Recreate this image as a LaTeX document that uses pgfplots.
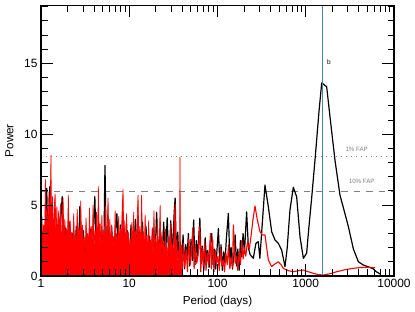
\documentclass[border=0pt]{standalone}
\usepackage{pgfplots}
\pgfplotsset{compat=1.18}
\usepackage{fontspec}
\setmainfont{Liberation Sans}
\definecolor{lineblue}{RGB}{70,130,180}
\definecolor{fapgray}{RGB}{128,128,128}
\begin{document}
\begin{tikzpicture}
\path (0,0) rectangle (415bp,312bp);
\begin{axis}[at={(41bp,36bp)}, anchor=south west, scale only axis,
  width=353bp, height=270.7bp,
  xmin=0, xmax=4, ymin=0, ymax=19.1,
  xtick={0,1,2,3,4}, xticklabels={1,10,100,1000,10000},
  minor xtick={0.30103,0.47712,0.60206,0.69897,0.77815,0.84510,0.90309,0.95424,
    1.30103,1.47712,1.60206,1.69897,1.77815,1.84510,1.90309,1.95424,
    2.30103,2.47712,2.60206,2.69897,2.77815,2.84510,2.90309,2.95424,
    3.30103,3.47712,3.60206,3.69897,3.77815,3.84510,3.90309,3.95424},
  ytick={0,5,10,15}, yticklabels={0,5,10,15},
  minor ytick={1,2,3,4,6,7,8,9,11,12,13,14,16,17,18,19},
  tick align=inside, major tick length=12bp, minor tick length=6.5bp,
  every tick/.style={black, line width=1bp},
  axis line style={line width=1.2bp},
  axis on top,
  tick label style={font=\fontsize{12}{14}\selectfont},
  label style={font=\fontsize{11.7}{14}\selectfont},
  xlabel={Period (days)}, ylabel={Power},
  xlabel style={at={(axis description cs:0.5,-0.1045)}, anchor=base},
  ylabel style={at={(axis description cs:-0.0892,0.5)}, anchor=center},
]
% FAP levels
\addplot[fapgray, line width=0.9bp, dash pattern=on 1bp off 4bp] coordinates {(0,8.4) (4,8.4)};
\addplot[fapgray, line width=0.9bp, dash pattern=on 6.5bp off 6bp] coordinates {(0,6.0) (4,6.0)};
% black periodogram (x = log10 period)
\addplot[black, line width=1.2bp, line join=round] coordinates {
(0.00,0.0)(0.02,3.0)(0.04,1.0)(0.065,6.2)(0.08,1.5)(0.10,6.3)(0.12,2.0)(0.14,4.0)(0.16,1.0)(0.18,3.6)
(0.20,1.4)(0.24,5.6)(0.26,1.0)(0.28,3.4)(0.30,1.6)(0.32,3.8)(0.34,0.9)(0.36,3.0)(0.38,1.2)(0.40,3.5)
(0.42,0.6)(0.44,4.9)(0.46,1.5)(0.48,3.2)(0.50,1.0)(0.52,3.0)(0.54,0.7)(0.56,3.3)(0.58,1.3)(0.61,5.6)
(0.63,0.8)(0.65,3.5)(0.67,1.4)(0.69,3.2)(0.71,1.0)(0.725,7.8)(0.74,1.6)(0.76,3.3)(0.78,0.9)(0.80,3.5)
(0.82,1.2)(0.84,3.0)(0.86,4.4)(0.88,0.6)(0.90,3.6)(0.92,1.5)(0.94,3.4)(0.96,0.8)(0.98,3.2)(1.00,1.1)
(1.02,3.6)(1.04,0.5)(1.07,4.0)(1.09,1.3)(1.11,3.2)(1.13,0.7)(1.15,3.8)(1.17,1.0)(1.19,3.5)(1.21,0.6)
(1.23,2.8)(1.25,1.4)(1.27,3.4)(1.29,0.9)(1.31,4.5)(1.33,1.6)(1.35,3.0)(1.37,0.8)(1.39,3.8)(1.41,1.2)
(1.43,4.1)(1.45,0.7)(1.47,3.9)(1.49,1.5)(1.51,4.6)(1.52,5.5)(1.535,1.2)(1.55,3.1)(1.565,0.6)
(1.58,2.4)(1.595,1.0)(1.61,2.9)(1.625,0.5)(1.64,2.2)(1.655,1.3)(1.67,3.0)(1.685,0.7)(1.70,2.6)(1.715,1.1)
(1.73,3.95)(1.745,0.8)(1.76,2.5)(1.775,1.4)(1.80,4.07)(1.815,0.9)(1.83,2.1)(1.845,0.4)(1.86,2.7)(1.875,1.2)
(1.89,1.8)(1.905,0.6)(1.92,2.4)(1.935,3.0)(1.95,0.8)(1.965,1.9)(1.98,0.5)(2.01,3.36)(2.025,1.0)(2.04,2.2)
(2.055,0.4)(2.07,1.7)(2.085,0.9)(2.10,2.6)(2.123,4.42)(2.14,1.1)(2.155,2.0)(2.17,0.5)(2.185,1.4)(2.20,2.9)
(2.215,0.7)(2.23,1.9)(2.245,0.4)(2.26,2.5)(2.274,1.36)(2.29,3.0)(2.305,1.6)(2.33,4.53)(2.35,2.0)(2.37,1.5)
(2.406,1.25)(2.435,2.3)(2.462,2.42)(2.48,1.25)(2.538,6.42)(2.576,4.89)(2.614,3.12)(2.652,2.54)(2.69,2.3)
(2.727,1.83)(2.765,0.66)(2.79,2.0)(2.821,4.65)(2.859,6.26)(2.897,5.59)(2.935,2.77)(2.973,1.25)(3.01,1.6)
(3.035,3.4)(3.067,5.5)(3.105,8.2)(3.15,11.6)(3.181,13.63)(3.237,13.35)(3.29,10.4)(3.331,8.18)(3.388,5.7)
(3.44,4.5)(3.483,3.48)(3.54,1.9)(3.596,1.01)(3.65,0.78)(3.72,0.62)(3.766,0.5)(3.80,0.3)(3.84,0.15)
};
% red periodogram, dense short-period part (filled)
\addplot[red, fill=red, line width=0.7bp, line join=round] coordinates {
(0.00,0.0)(0.005,3.5)(0.01,4.2)(0.02,2.4)(0.03,3.6)(0.04,2.2)(0.05,6.8)(0.06,2.9)(0.07,4.9)(0.08,2.0)(0.09,5.9)
(0.10,3.0)(0.113,8.5)(0.12,2.6)(0.13,5.6)(0.14,2.3)(0.15,4.8)(0.16,5.8)(0.17,2.5)(0.18,4.9)(0.19,1.8)
(0.20,4.6)(0.21,2.7)(0.22,5.1)(0.23,1.5)(0.24,3.8)(0.25,5.5)(0.26,2.4)(0.27,4.0)(0.28,2.0)(0.29,3.3)
(0.30,2.6)(0.31,5.7)(0.32,1.9)(0.33,3.9)(0.34,2.5)(0.35,3.1)(0.36,1.4)(0.37,4.4)(0.38,2.3)(0.39,2.9)
(0.40,1.8)(0.41,4.7)(0.42,2.6)(0.43,3.4)(0.44,1.7)(0.45,5.3)(0.46,2.4)(0.47,3.6)(0.48,2.1)(0.49,2.7)
(0.50,1.2)(0.51,4.1)(0.52,2.5)(0.53,3.0)(0.54,1.9)(0.55,4.8)(0.56,1.6)(0.57,3.5)(0.58,2.2)(0.59,5.0)
(0.60,1.8)(0.61,3.2)(0.62,2.5)(0.63,4.5)(0.64,1.4)(0.65,6.3)(0.66,2.3)(0.67,3.7)(0.68,1.9)(0.69,4.3)
(0.70,1.6)(0.71,3.1)(0.72,2.2)(0.73,4.9)(0.74,1.7)(0.75,3.4)(0.76,5.5)(0.77,2.0)(0.78,4.0)(0.79,1.3)
(0.80,3.6)(0.81,2.3)(0.82,2.8)(0.83,1.5)(0.84,4.6)(0.85,2.4)(0.86,3.0)(0.87,1.6)(0.88,4.2)(0.89,2.0)
(0.90,3.3)(0.91,2.5)(0.92,4.8)(0.93,6.1)(0.94,1.8)(0.95,3.9)(0.96,1.5)(0.97,4.4)(0.98,2.2)(0.99,3.1)
(1.00,1.3)(1.01,2.6)(1.02,1.9)(1.03,3.8)(1.04,1.6)(1.05,4.5)(1.06,2.2)(1.07,3.2)(1.08,1.4)(1.09,4.1)
(1.10,5.7)(1.11,1.8)(1.12,3.5)(1.13,1.2)(1.14,5.7)(1.15,2.0)(1.16,3.0)(1.17,1.5)(1.18,4.3)(1.19,2.1)
(1.20,2.9)(1.21,1.3)(1.22,3.9)(1.23,1.7)(1.24,2.5)(1.25,1.9)(1.26,3.4)(1.27,1.0)(1.28,4.6)(1.29,1.8)
(1.30,2.7)(1.31,1.2)(1.32,3.6)(1.33,1.9)(1.34,2.3)(1.35,5.0)(1.36,1.1)(1.37,3.1)(1.38,1.6)(1.39,2.4)
(1.40,0.9)(1.41,3.3)(1.42,1.7)(1.43,2.0)(1.44,1.1)(1.45,2.9)(1.46,0.8)(1.47,3.7)(1.48,1.5)(1.49,2.2)
(1.50,1.0)(1.51,4.2)(1.52,5.1)(1.53,1.3)(1.54,2.6)(1.55,0.9)(1.56,1.8)(1.57,1.2)(1.575,8.4)(1.58,1.1)
(1.59,2.1)(1.60,0.4)
} \closedcycle;
% red periodogram, longer periods
\addplot[red, line width=1.1bp, line join=round] coordinates {
(1.60,0.4)(1.615,2.3)(1.63,0.6)(1.645,1.9)(1.66,0.3)(1.675,2.6)(1.69,0.8)(1.705,1.7)(1.72,3.4)
(1.735,0.5)(1.75,2.2)(1.765,0.9)(1.78,1.5)(1.80,3.48)(1.81,0.3)(1.825,2.0)(1.84,0.7)(1.855,2.4)(1.87,0.4)
(1.885,1.6)(1.90,0.8)(1.92,3.0)(1.93,0.5)(1.945,2.6)(1.96,0.3)(1.975,1.8)(1.99,0.9)(2.005,1.4)(2.02,0.4)
(2.035,2.0)(2.05,0.7)(2.065,1.1)(2.08,0.3)(2.095,1.6)(2.11,0.8)(2.125,2.2)(2.14,0.5)(2.155,1.3)(2.17,0.6)
(2.18,3.6)(2.20,0.9)(2.215,1.4)(2.23,0.4)(2.245,1.7)(2.26,0.8)(2.275,2.5)(2.29,1.2)(2.305,2.0)(2.32,1.4)
(2.34,2.4)(2.36,1.9)(2.38,2.8)(2.40,3.9)(2.425,4.94)(2.45,4.0)(2.482,3.12)(2.51,2.9)(2.538,2.89)(2.576,1.13)
(2.614,0.66)(2.65,0.85)(2.69,1.0)(2.72,0.8)(2.746,0.54)(2.80,0.38)(2.859,0.3)(2.92,0.38)(2.973,0.42)(3.03,0.3)
(3.086,0.19)(3.14,0.1)(3.199,0.07)(3.27,0.15)(3.35,0.3)(3.45,0.45)(3.54,0.54)(3.62,0.6)(3.69,0.61)(3.785,0.59)
};
% planet b period
\addplot[lineblue, line width=1.1bp] coordinates {(3.192,0) (3.192,19.1)};
\node[font=\fontsize{6.5}{7}\selectfont, text=black] at (axis cs:3.263,15.1) {b};
\node[font=\fontsize{6.2}{7}\selectfont, text=fapgray] at (axis cs:3.577,8.96) {1\% FAP};
\node[font=\fontsize{6.2}{7}\selectfont, text=fapgray] at (axis cs:3.634,6.65) {10\% FAP};
\end{axis}
\end{tikzpicture}
\end{document}
